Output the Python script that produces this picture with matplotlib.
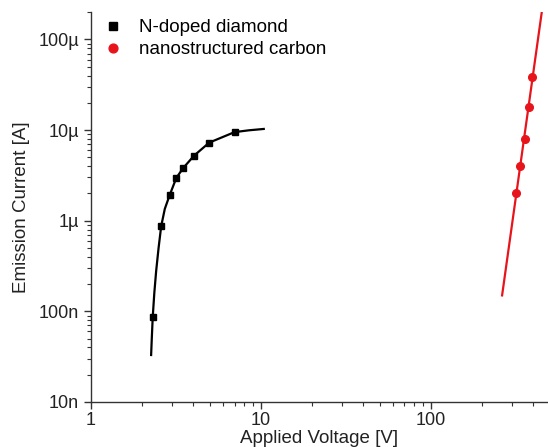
import matplotlib
matplotlib.use('Agg')
import matplotlib.pyplot as plt
from matplotlib.ticker import FixedLocator, LogLocator, NullFormatter
import numpy as np

plt.rcParams['font.family'] = ['Liberation Sans', 'DejaVu Sans']

# N-doped diamond: measured points and fit curve
diamond_v = [2.31, 2.59, 2.90, 3.18, 3.50, 4.05, 4.97, 7.0]
diamond_i = [8.7e-8, 8.7e-7, 1.9e-6, 2.97e-6, 3.84e-6, 5.24e-6, 7.28e-6, 9.5e-6]
diamond_fit_v = [2.26, 2.28, 2.31, 2.36, 2.42, 2.50, 2.59, 2.72, 2.90, 3.18,
                 3.50, 4.05, 4.97, 7.0, 8.5, 10.4]
diamond_fit_i = [3.3e-8, 5.0e-8, 8.7e-8, 1.6e-7, 2.8e-7, 5.0e-7, 8.7e-7, 1.35e-6,
                 1.9e-6, 2.97e-6, 3.84e-6, 5.24e-6, 7.28e-6, 9.5e-6, 9.95e-6, 1.03e-5]

# nanostructured carbon: measured points and fit line
carbon_v = [318, 337, 357, 377, 395]
carbon_i = [2.0e-6, 4.0e-6, 8.0e-6, 1.8e-5, 3.9e-5]
carbon_fit_v = [263, 455]
carbon_fit_i = [1.5e-7, 2.3e-4]

y_ticks = [1e-8, 1e-7, 1e-6, 1e-5, 1e-4]
y_labels = ['10n', '100n', '1\u00b5', '10\u00b5', '100\u00b5']
x_ticks = [1, 10, 100]
x_labels = ['1', '10', '100']

fig = plt.figure(figsize=(5.48, 4.47), dpi=100)
ax = fig.add_axes([0.166, 0.1007, 0.834, 0.872])

ax.plot(diamond_fit_v, diamond_fit_i, color='black', lw=1.6, zorder=2)
ax.plot(carbon_fit_v, carbon_fit_i, color='#e8141b', lw=1.6, zorder=2)
ax.plot(diamond_v, diamond_i, 's', color='black', ms=5, label='N-doped diamond', zorder=3)
ax.plot(carbon_v, carbon_i, 'o', color='#e8141b', ms=5.5, label='nanostructured carbon', zorder=3)

ax.set_xscale('log')
ax.set_yscale('log')
ax.set_xlim(1, 490)
ax.set_ylim(1e-8, 2e-4)

ax.yaxis.set_major_locator(FixedLocator(y_ticks))
ax.set_yticklabels(y_labels)
ax.xaxis.set_major_locator(FixedLocator(x_ticks))
ax.set_xticklabels(x_labels)
ax.xaxis.set_minor_locator(LogLocator(base=10, subs=np.arange(2, 10)))
ax.yaxis.set_minor_locator(LogLocator(base=10, subs=np.arange(2, 10)))
ax.xaxis.set_minor_formatter(NullFormatter())
ax.yaxis.set_minor_formatter(NullFormatter())

ax.spines['top'].set_visible(False)
ax.spines['right'].set_visible(False)
for s in ['left', 'bottom']:
    ax.spines[s].set_color('#333333')
    ax.spines[s].set_linewidth(1.0)

ax.tick_params(which='major', direction='out', length=5, width=1, labelsize=13, colors='#333333')
ax.tick_params(which='minor', direction='out', length=3, width=0.8, colors='#333333')
ax.tick_params(labelcolor='#222222')
ax.tick_params(axis='x', pad=2)

ax.set_xlabel('Applied Voltage [V]', fontsize=13.5, color='#222222', labelpad=1)
ax.set_ylabel('Emission Current [A]', fontsize=13.5, color='#222222', labelpad=6)

ax.legend(loc='upper left', frameon=False, fontsize=13.5, handletextpad=0.6,
          borderaxespad=0, borderpad=0.38, labelspacing=0.25, handlelength=1.6,
          markerscale=1.15, bbox_to_anchor=(0, 1.0))

fig.savefig('out.png', dpi=100)
